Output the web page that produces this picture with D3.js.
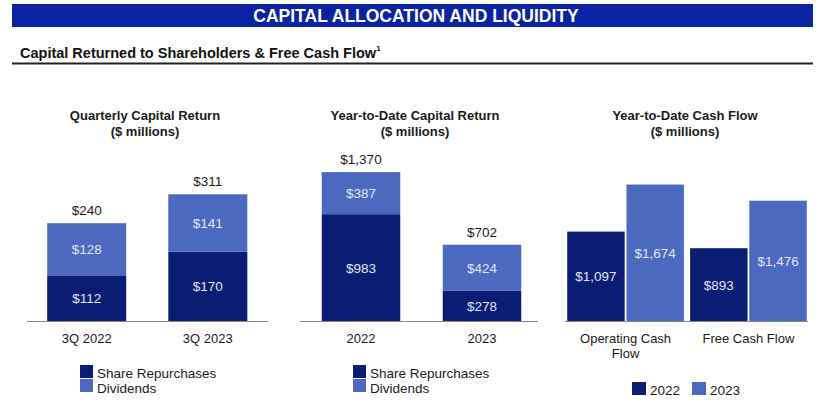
<!DOCTYPE html>
<html><head><meta charset="utf-8">
<script src="https://cdn.jsdelivr.net/npm/d3@7"></script>
<style>body{margin:0;background:#fff}svg{display:block;font-family:"Liberation Sans",Arial,sans-serif}</style>
</head><body><svg id="c" width="825" height="414"></svg>
<script>
const bannerTitle = "CAPITAL ALLOCATION AND LIQUIDITY";
const subTitle = "Capital Returned to Shareholders & Free Cash Flow";

const qCategories = ["3Q 2022", "3Q 2023"];
const qRepurchases = [112, 170];
const qDividends = [128, 141];

const ytdCategories = ["2022", "2023"];
const ytdRepurchases = [983, 278];
const ytdDividends = [387, 424];

const cfCategories = [["Operating Cash", "Flow"], ["Free Cash Flow"]];
const cfYears = ["2022", "2023"];
const cf2022 = [1097, 893];
const cf2023 = [1674, 1476];

const stackLegend = ["Share Repurchases", "Dividends"];

const DARK = "#0b1d72", LIGHT = "#4b69bf", INLBL = "#e2e6f7", TXT = "#1a1a1a";
const VFS = 13.5, CFS = 13, LFS = 13.5;
const svg = d3.select("#c");
const fmt = v => "$" + d3.format(",")(v);

// Banner
svg.append("rect").attr("x", 12).attr("y", 4).attr("width", 801).attr("height", 23).attr("fill", "#0b22a3");
svg.append("text").attr("x", 416).attr("y", 21.5).attr("text-anchor", "middle").attr("fill", "#fff")
  .attr("font-size", 17.5).attr("font-weight", "bold").text(bannerTitle);
const st = svg.append("text").attr("x", 20).attr("y", 58).attr("font-size", 14.5).attr("font-weight", "bold").attr("fill", "#111").text(subTitle);
st.append("tspan").attr("font-size", 8).attr("dy", -7).text("1");
svg.append("line").attr("x1", 12).attr("x2", 813).attr("y1", 63.5).attr("y2", 63.5).attr("stroke", "#222").attr("stroke-width", 2);

const baseY = 321, plotH = 163;

function panelTitle(cx, t) {
  svg.append("text").attr("x", cx).attr("y", 119.5).attr("text-anchor", "middle").attr("font-size", 13).attr("font-weight", "bold").attr("fill", TXT).text(t);
  svg.append("text").attr("x", cx).attr("y", 136).attr("text-anchor", "middle").attr("font-size", 13).attr("font-weight", "bold").attr("fill", TXT).text("($ millions)");
}

function stacked(cfg) {
  const {cats, rep, div, dmax, axisX, barX, bw, cx, legX} = cfg;
  const y = d3.scaleLinear().domain([0, dmax]).range([baseY, baseY - plotH]);
  const x = d3.scalePoint().domain(cats).range(barX);
  panelTitle(cx, cfg.title);
  const g = svg.append("g");
  cats.forEach((c, i) => {
    const x0 = x(c) - bw / 2;
    const tot = rep[i] + div[i];
    g.append("rect").attr("x", x0).attr("y", y(rep[i])).attr("width", bw).attr("height", baseY - y(rep[i])).attr("fill", DARK);
    g.append("rect").attr("x", x0).attr("y", y(tot)).attr("width", bw).attr("height", y(rep[i]) - y(tot)).attr("fill", LIGHT);
    g.append("text").attr("x", x(c)).attr("y", (y(rep[i]) + baseY) / 2 + 5).attr("text-anchor", "middle").attr("font-size", VFS).attr("fill", INLBL).text(fmt(rep[i]));
    g.append("text").attr("x", x(c)).attr("y", (y(tot) + y(rep[i])) / 2 + 5).attr("text-anchor", "middle").attr("font-size", VFS).attr("fill", INLBL).text(fmt(div[i]));
    g.append("text").attr("x", x(c)).attr("y", y(tot) - 8).attr("text-anchor", "middle").attr("font-size", VFS).attr("fill", TXT).text(fmt(tot));
    g.append("text").attr("x", x(c)).attr("y", 343).attr("text-anchor", "middle").attr("font-size", CFS).attr("fill", TXT).text(c);
  });
  g.append("line").attr("x1", axisX[0]).attr("x2", axisX[1]).attr("y1", baseY + 0.5).attr("y2", baseY + 0.5).attr("stroke", "#888").attr("stroke-width", 1);
  stackLegend.forEach((l, i) => {
    g.append("rect").attr("x", legX).attr("y", 365 + i * 14).attr("width", 13).attr("height", 13).attr("fill", i === 0 ? DARK : LIGHT);
    g.append("text").attr("x", legX + 17).attr("y", 378 + i * 14.5).attr("font-size", LFS).attr("fill", TXT).text(l);
  });
}

stacked({title: "Quarterly Capital Return", cats: qCategories, rep: qRepurchases, div: qDividends, dmax: 400,
  axisX: [27, 268], barX: [86.7, 207.8], bw: 79, cx: 145, legX: 80});
stacked({title: "Year-to-Date Capital Return", cats: ytdCategories, rep: ytdRepurchases, div: ytdDividends, dmax: 1500,
  axisX: [300, 538], barX: [361, 482], bw: 78.5, cx: 415, legX: 353});

// Cash flow grouped
(function() {
  panelTitle(685, "Year-to-Date Cash Flow");
  const y = d3.scaleLinear().domain([0, 2000]).range([baseY, baseY - plotH]);
  const keys = cfCategories.map(d => d.join(" "));
  const x0 = d3.scaleBand().domain(keys).range([566, 808]).paddingInner(0.05).paddingOuter(0.01);
  const x1 = d3.scaleBand().domain(cfYears).range([0, x0.bandwidth()]).paddingInner(0.03);
  const g = svg.append("g");
  keys.forEach((k, i) => {
    const vals = [cf2022[i], cf2023[i]];
    cfYears.forEach((yr, j) => {
      const xx = x0(k) + x1(yr);
      g.append("rect").attr("x", xx).attr("y", y(vals[j])).attr("width", x1.bandwidth()).attr("height", baseY - y(vals[j])).attr("fill", j === 0 ? DARK : LIGHT);
      g.append("text").attr("x", xx + x1.bandwidth() / 2).attr("y", (y(vals[j]) + baseY) / 2 + 5).attr("text-anchor", "middle").attr("font-size", VFS).attr("fill", INLBL).text(fmt(vals[j]));
    });
    cfCategories[i].forEach((line, li) => {
      g.append("text").attr("x", x0(k) + x0.bandwidth() / 2).attr("y", 343 + li * 15).attr("text-anchor", "middle").attr("font-size", CFS).attr("fill", TXT).text(line);
    });
  });
  g.append("line").attr("x1", 565).attr("x2", 808).attr("y1", baseY + 0.5).attr("y2", baseY + 0.5).attr("stroke", "#888");
  const lx = [632, 692];
  cfYears.forEach((yr, j) => {
    g.append("rect").attr("x", lx[j]).attr("y", 382).attr("width", 14).attr("height", 13).attr("fill", j === 0 ? DARK : LIGHT);
    g.append("text").attr("x", lx[j] + 18).attr("y", 394.5).attr("font-size", LFS).attr("fill", TXT).text(yr);
  });
})();
</script></body></html>
